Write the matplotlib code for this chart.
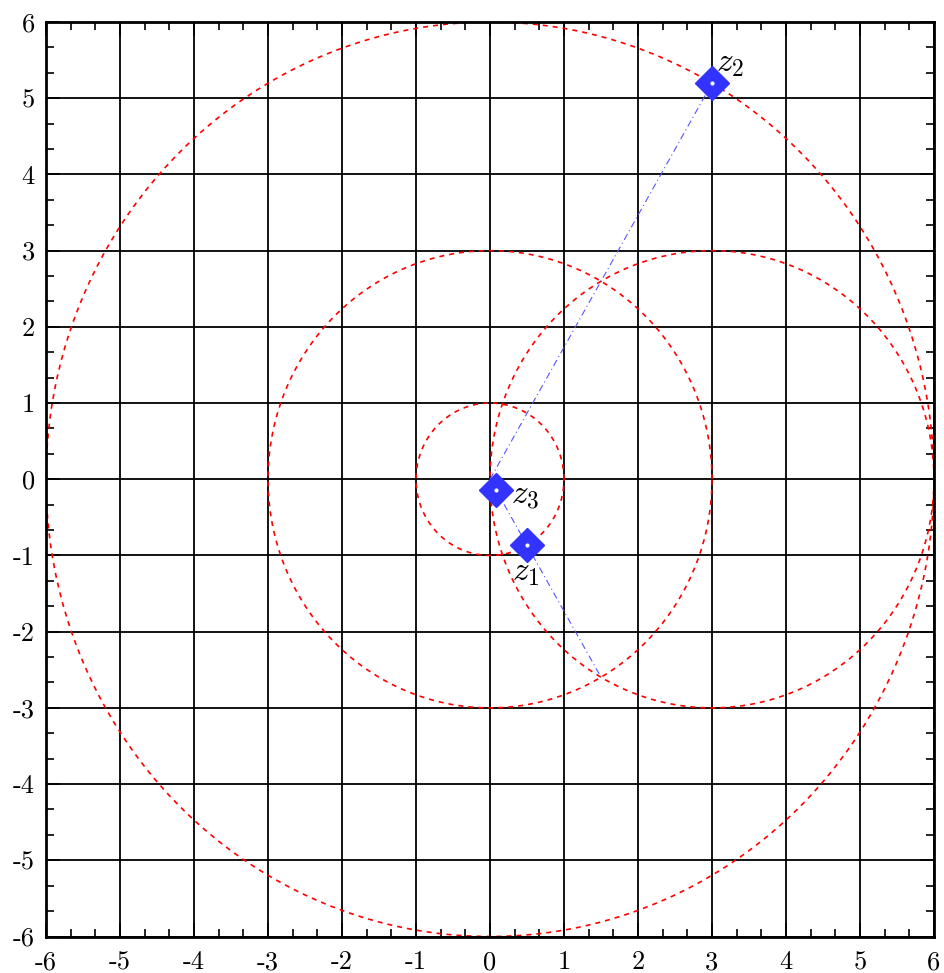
import numpy as np
import matplotlib
matplotlib.use("Agg")
import matplotlib.pyplot as plt
from matplotlib.ticker import MultipleLocator

plt.rcParams['mathtext.fontset'] = 'cm'

# Data
circle_centers_x = [0, 0, 3, 0]
circle_centers_y = [0, 0, 0, 0]
circle_radii = [1, 3, 3, 6]
point_names = ['z_1', 'z_2', 'z_3']
point_x = [0.5, 3.0, 0.0833]
point_y = [-0.866, 5.196, -0.1443]
ray_end_x = [3.0, 1.5]
ray_end_y = [5.196, -2.598]
ticks = list(range(-6, 7))

fig = plt.figure(figsize=(9.45, 9.73), dpi=100)
ax = fig.add_axes([46/945, 1-936.5/973, 888/945, 914.5/973])
ax.set_xlim(-6, 6)
ax.set_ylim(-6, 6)

for t in ticks:
    ax.axvline(t, color='black', lw=1.3, zorder=1)
    ax.axhline(t, color='black', lw=1.3, zorder=1)

th = np.linspace(0, 2*np.pi, 400)
for cx, cy, r in zip(circle_centers_x, circle_centers_y, circle_radii):
    ax.plot(cx + r*np.cos(th), cy + r*np.sin(th), color='red', lw=1.2,
            ls=(0, (3, 3)), zorder=2)

for ex, ey in zip(ray_end_x, ray_end_y):
    ax.plot([0, ex], [0, ey], color='#5555ff', lw=0.8, ls=(0, (6, 3, 1, 3)), zorder=3)

ax.plot(point_x, point_y, ls='none', marker='D', ms=17.5, color='#3333ff',
        mec='#3333ff', zorder=4)
ax.plot(point_x, point_y, ls='none', marker='o', ms=2, color='white', zorder=5)

label_off = {'z_1': (-0.2, -0.35), 'z_2': (0.05, 0.06), 'z_3': (0.2, -0.05)}
for n, x, y in zip(point_names, point_x, point_y):
    dx, dy = label_off[n]
    ax.text(x + dx, y + dy, '$' + n + '$', fontsize=24, ha='left',
            va='center' if n != 'z_2' else 'bottom', zorder=6)

ax.set_xticks(ticks)
ax.set_yticks(ticks)
ax.set_xticklabels([str(t) for t in ticks], family='cmr10', fontsize=19)
ax.set_yticklabels([str(t) for t in ticks], family='cmr10', fontsize=19)
ax.xaxis.set_minor_locator(MultipleLocator(1/3))
ax.yaxis.set_minor_locator(MultipleLocator(1/3))
ax.tick_params(which='both', direction='in', top=True, right=True, color='black')
ax.tick_params(which='major', length=10, width=1.2)
ax.tick_params(axis='x', which='major', pad=10)
ax.tick_params(axis='y', which='major', pad=8)
ax.tick_params(which='minor', length=6, width=1.2)
for s in ax.spines.values():
    s.set_linewidth(2)

fig.savefig('out.png', dpi=100)
